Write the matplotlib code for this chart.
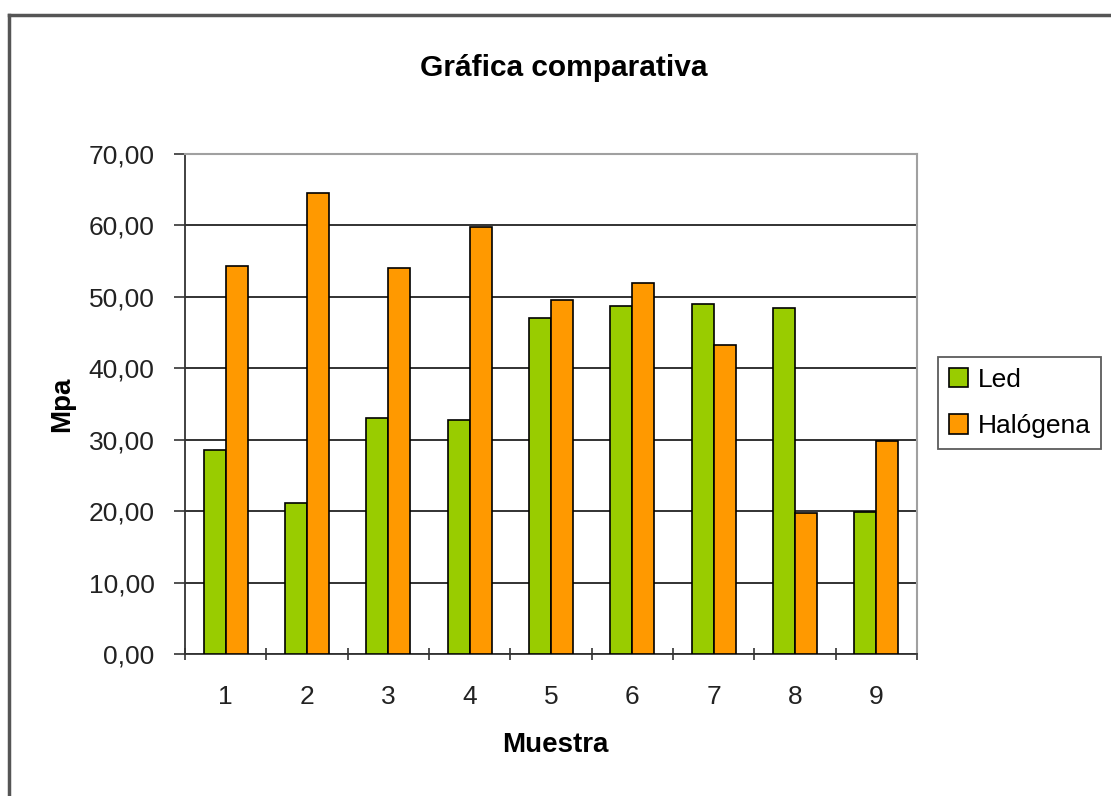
import matplotlib
matplotlib.use('Agg')
import matplotlib.pyplot as plt
from matplotlib.lines import Line2D
from matplotlib.ticker import FuncFormatter
import numpy as np

plt.rcParams['font.family'] = ['Liberation Sans', 'DejaVu Sans']

muestras = ['1', '2', '3', '4', '5', '6', '7', '8', '9']
led = [28.6, 21.2, 33.0, 32.7, 47.1, 48.7, 49.0, 48.5, 19.9]
halogena = [54.3, 64.5, 54.1, 59.8, 49.6, 52.0, 43.3, 19.7, 29.8]

fig = plt.figure(figsize=(11.11, 7.96), dpi=100)
ax = fig.add_axes([0.1665, 0.1784, 0.6589, 0.6281])

x = np.arange(1, len(muestras) + 1)
w = 0.27
ax.bar(x - w/2, led, w, color='#99CC00', edgecolor='black', linewidth=1.2, label='Led', zorder=3)
ax.bar(x + w/2, halogena, w, color='#FF9900', edgecolor='black', linewidth=1.2, label='Halógena', zorder=3)

ax.set_xlim(0.5, len(muestras) + 0.5)
ax.set_ylim(0, 70)
ax.set_yticks(np.arange(0, 71, 10))
ax.yaxis.set_major_formatter(FuncFormatter(lambda v, p: f'{v:.2f}'.replace('.', ',')))

# ticks on category boundaries, labels at the centres
ax.set_xticks(np.arange(0.5, len(muestras) + 1, 1))
ax.set_xticklabels([])
ax.set_xticks(x, minor=True)
ax.set_xticklabels(muestras, minor=True)
ax.tick_params(axis='x', which='major', length=8, width=1.2, direction='inout', color='#333333')
ax.tick_params(axis='x', which='minor', length=0, pad=22, labelsize=19, labelcolor='#222222')
ax.tick_params(axis='y', length=8, width=1.2, direction='out', pad=14, labelsize=19,
               labelcolor='#222222', color='#333333')

ax.grid(axis='y', color='#222222', linewidth=1.3, zorder=0)
ax.set_axisbelow(True)
ax.yaxis.get_gridlines()[-1].set_visible(False)

for side in ['top', 'right']:
    ax.spines[side].set_color('#a0a0a0')
    ax.spines[side].set_linewidth(1.5)
for side in ['left', 'bottom']:
    ax.spines[side].set_color('#333333')
    ax.spines[side].set_linewidth(1.3)

fig.text(0.507, 0.915, 'Gráfica comparativa', ha='center', va='center',
         fontsize=21.5, fontweight='bold')
fig.text(0.5, 0.064, 'Muestra', ha='center', va='center', fontsize=20, fontweight='bold')
fig.text(0.056, 0.492, 'Mpa', ha='center', va='center', rotation=90,
         fontsize=20, fontweight='bold')

leg = ax.legend(loc='center left', bbox_to_anchor=(1.0287, 0.502), fontsize=19,
                frameon=True, fancybox=False, edgecolor='#333333',
                handlelength=0.75, handleheight=0.75, handletextpad=0.35,
                borderpad=0.4, borderaxespad=0, labelspacing=0.85)
leg.get_frame().set_linewidth(1.3)

# outer chart border
fig.add_artist(Line2D([8.5/1111, 8.5/1111], [0, 1 - 15/796], color='#555555', linewidth=2.5))
fig.add_artist(Line2D([8.5/1111, 1], [1 - 15/796, 1 - 15/796], color='#555555', linewidth=2.5))

fig.savefig('out.png', dpi=100)
